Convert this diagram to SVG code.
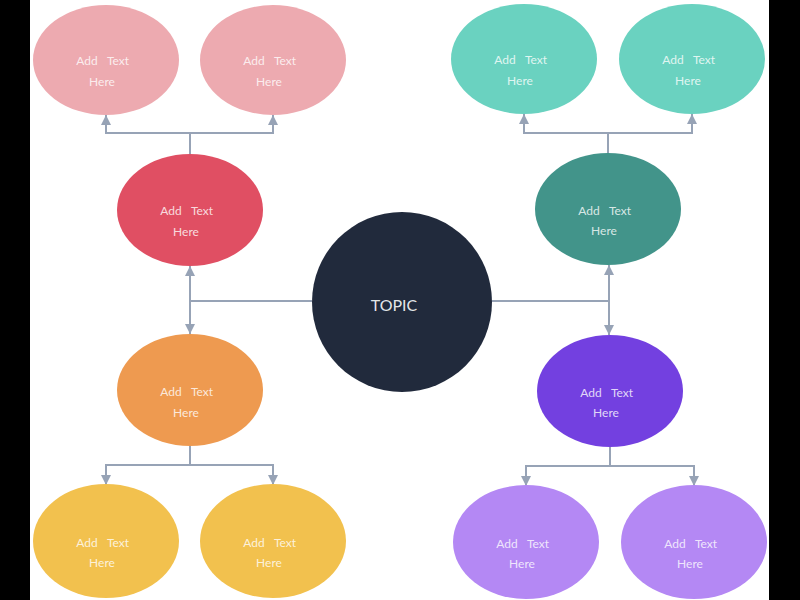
<svg xmlns="http://www.w3.org/2000/svg" width="800" height="600" viewBox="0 0 800 600">
<defs>
<marker id="arr" viewBox="0 0 10 10" refX="10" refY="5" markerWidth="5" markerHeight="5" orient="auto"><path d="M0,0 L10,5 L0,10 z" fill="#97A3B6"/></marker>
<style>
.c{fill:none;stroke:#97A3B6;stroke-width:2}
.t{font-family:Lato,"Open Sans",sans-serif;font-size:12px;fill:#fff;fill-opacity:0.8;text-anchor:middle}
.tp{font-family:Lato,"Open Sans",sans-serif;font-size:16px;fill:#fff;fill-opacity:0.9;text-anchor:middle}
</style>
</defs>
<rect width="800" height="600" fill="#000"/>
<rect x="30" y="0" width="739" height="600" fill="#fff"/>
<g id="connectors">
<path class="c" d="M190,154 V133 H106 V115" marker-end="url(#arr)"/>
<path class="c" d="M190,133 H273 V115" marker-end="url(#arr)"/>
<path class="c" d="M312,301 H190 V266" marker-end="url(#arr)"/>
<path class="c" d="M190,301 V334" marker-end="url(#arr)"/>
<path class="c" d="M190,446 V465 H106 V485" marker-end="url(#arr)"/>
<path class="c" d="M190,465 H273 V485" marker-end="url(#arr)"/>
<path class="c" d="M492,301 H609 V265" marker-end="url(#arr)"/>
<path class="c" d="M609,301 V335" marker-end="url(#arr)"/>
<path class="c" d="M608,153 V133 H524 V114" marker-end="url(#arr)"/>
<path class="c" d="M608,133 H692 V114" marker-end="url(#arr)"/>
<path class="c" d="M610,447 V466 H526 V486" marker-end="url(#arr)"/>
<path class="c" d="M610,466 H694 V486" marker-end="url(#arr)"/>
</g>
<g id="topic"><circle cx="402" cy="302" r="90" fill="#212A3C"/><text class="tp" x="394" y="311">TOPIC</text></g>
<g id="n1"><ellipse cx="106" cy="60" rx="73" ry="55" fill="#EDAAB0"/><text class="t" x="87" y="65">Add</text><text class="t" x="118" y="65">Text</text><text class="t" x="102" y="86">Here</text></g>
<g id="n2"><ellipse cx="273" cy="60" rx="73" ry="55" fill="#EDAAB0"/><text class="t" x="254" y="65">Add</text><text class="t" x="285" y="65">Text</text><text class="t" x="269" y="86">Here</text></g>
<g id="n3"><ellipse cx="190" cy="210" rx="73" ry="56" fill="#E04F63"/><text class="t" x="171" y="215">Add</text><text class="t" x="202" y="215">Text</text><text class="t" x="186" y="236">Here</text></g>
<g id="n4"><ellipse cx="190" cy="390" rx="73" ry="56" fill="#EE9A50"/><text class="t" x="171" y="396">Add</text><text class="t" x="202" y="396">Text</text><text class="t" x="186" y="417">Here</text></g>
<g id="n5"><ellipse cx="106" cy="541" rx="73" ry="57" fill="#F2C14E"/><text class="t" x="87" y="547">Add</text><text class="t" x="118" y="547">Text</text><text class="t" x="102" y="567">Here</text></g>
<g id="n6"><ellipse cx="273" cy="541" rx="73" ry="57" fill="#F2C14E"/><text class="t" x="254" y="547">Add</text><text class="t" x="285" y="547">Text</text><text class="t" x="269" y="567">Here</text></g>
<g id="n7"><ellipse cx="524" cy="59" rx="73" ry="55" fill="#6AD2C0"/><text class="t" x="505" y="64">Add</text><text class="t" x="536" y="64">Text</text><text class="t" x="520" y="85">Here</text></g>
<g id="n8"><ellipse cx="692" cy="59" rx="73" ry="55" fill="#6AD2C0"/><text class="t" x="673" y="64">Add</text><text class="t" x="704" y="64">Text</text><text class="t" x="688" y="85">Here</text></g>
<g id="n9"><ellipse cx="608" cy="209" rx="73" ry="56" fill="#42948A"/><text class="t" x="589" y="215">Add</text><text class="t" x="620" y="215">Text</text><text class="t" x="604" y="235">Here</text></g>
<g id="n10"><ellipse cx="610" cy="391" rx="73" ry="56" fill="#7340E0"/><text class="t" x="591" y="397">Add</text><text class="t" x="622" y="397">Text</text><text class="t" x="606" y="417">Here</text></g>
<g id="n11"><ellipse cx="526" cy="542" rx="73" ry="57" fill="#B488F4"/><text class="t" x="507" y="548">Add</text><text class="t" x="538" y="548">Text</text><text class="t" x="522" y="568">Here</text></g>
<g id="n12"><ellipse cx="694" cy="542" rx="73" ry="57" fill="#B488F4"/><text class="t" x="675" y="548">Add</text><text class="t" x="706" y="548">Text</text><text class="t" x="690" y="568">Here</text></g>
</svg>
